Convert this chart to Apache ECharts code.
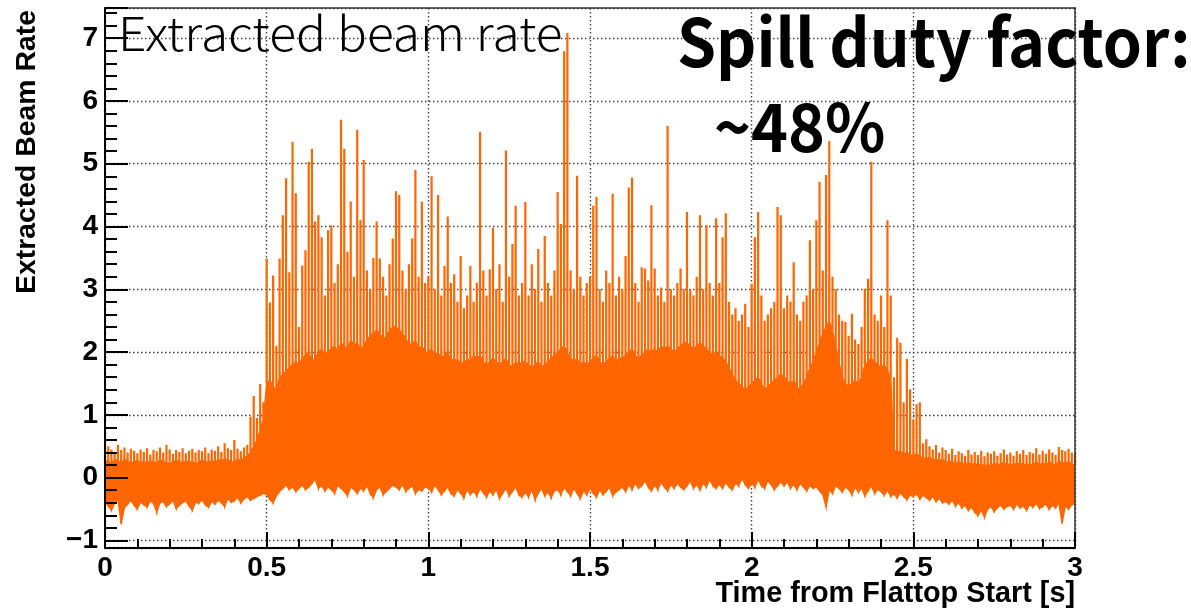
<!DOCTYPE html>
<html>
<head>
<meta charset="utf-8">
<script src="https://cdn.jsdelivr.net/npm/echarts@6/dist/echarts.min.js"></script>
<style>
  html, body { margin: 0; padding: 0; background: #ffffff; }
  #chart { width: 1191px; height: 610px; }
</style>
</head>
<body>
<div id="chart"></div>
<script>
// Extracted beam rate sampled every 10 ms from flattop start.
const T_START = 0;
const T_STEP = 0.01;

// Highest excursion of the rate inside each 10 ms sample
const peakRate = [
  0.42,0.50,0.45,0.38,0.52,0.44,0.48,0.40,0.46,0.43,
  0.39,0.45,0.41,0.47,0.37,0.44,0.42,0.48,0.40,0.52,
  0.45,0.38,0.44,0.41,0.47,0.39,0.43,0.46,0.40,0.44,
  0.42,0.48,0.39,0.45,0.43,0.50,0.41,0.55,0.47,0.44,
  0.60,0.46,0.42,0.48,0.52,0.97,1.30,0.95,1.49,1.20,
  3.49,2.79,3.22,2.10,3.49,4.18,4.77,3.27,5.35,4.53,
  2.40,3.38,3.62,5.03,5.24,4.08,4.18,3.83,2.90,3.94,
  4.02,3.10,3.40,5.70,5.24,3.60,4.40,3.20,5.54,4.10,
  5.06,3.30,3.00,3.50,4.08,3.49,3.20,2.90,3.40,3.81,
  4.56,4.50,3.30,3.00,3.40,3.81,4.90,3.20,4.40,3.10,
  3.20,4.80,3.00,4.50,2.90,3.37,4.16,3.10,3.24,2.80,
  3.53,2.70,2.90,3.37,2.80,3.10,5.51,3.30,2.90,3.32,
  3.98,3.00,3.40,2.80,5.21,3.20,3.72,4.33,2.90,3.10,
  4.39,2.90,3.40,3.00,3.64,2.80,3.85,3.10,2.90,3.30,
  4.55,4.04,6.79,7.08,3.30,3.00,4.81,3.20,2.90,3.10,
  3.20,4.33,4.47,3.00,2.80,3.30,3.10,4.52,2.90,3.20,
  3.00,3.53,4.62,4.78,3.10,2.80,3.35,3.33,3.14,4.34,
  3.33,2.90,3.03,2.80,5.60,3.00,2.90,3.10,3.33,3.00,
  4.23,3.00,2.90,3.20,4.18,3.00,4.02,3.10,2.90,4.13,
  3.10,3.83,4.21,2.80,2.60,2.70,2.50,2.60,2.77,2.40,
  3.09,3.83,4.23,2.90,2.50,2.60,2.70,2.80,4.31,4.18,
  2.70,2.90,2.80,3.43,2.60,2.50,2.80,2.90,3.78,3.00,
  4.10,4.71,3.30,4.82,5.36,3.20,3.00,2.60,2.50,2.48,
  2.26,2.61,2.20,2.13,2.40,3.01,3.17,5.03,2.60,2.50,
  2.90,2.40,4.10,2.90,1.60,2.23,2.15,1.20,1.89,1.41,
  0.93,1.17,1.20,0.55,0.61,0.50,0.45,0.52,0.40,0.48,
  0.44,0.38,0.46,0.36,0.42,0.39,0.35,0.44,0.37,0.41,
  0.36,0.43,0.34,0.40,0.38,0.42,0.35,0.39,0.45,0.37,
  0.40,0.35,0.42,0.38,0.44,0.36,0.41,0.39,0.47,0.37,
  0.43,0.38,0.45,0.40,0.36,0.49,0.44,0.42,0.46,0.40,
  0.38
];

// Upper edge of the densely filled part of the trace
const fillTop = [
  0.25,0.28,0.22,0.30,0.26,0.24,0.29,0.27,0.23,0.25,
  0.28,0.24,0.26,0.22,0.27,0.25,0.23,0.29,0.26,0.24,
  0.22,0.25,0.28,0.26,0.23,0.27,0.24,0.26,0.22,0.25,
  0.28,0.26,0.24,0.27,0.25,0.29,0.27,0.30,0.28,0.26,
  0.24,0.30,0.27,0.32,0.35,0.40,0.50,0.60,0.75,0.95,
  1.50,1.55,1.45,1.40,1.60,1.65,1.70,1.75,1.80,1.85,
  1.80,1.90,1.95,2.00,1.85,1.90,2.00,2.05,1.95,2.00,
  2.05,2.10,2.00,2.15,2.10,2.05,2.20,2.10,2.15,2.05,
  2.10,2.20,2.25,2.30,2.35,2.30,2.20,2.25,2.35,2.40,
  2.40,2.35,2.30,2.20,2.15,2.10,2.20,2.05,2.10,2.00,
  2.00,2.05,1.95,2.00,1.90,1.95,2.00,1.85,1.90,1.85,
  1.85,1.80,1.90,1.85,1.95,1.90,1.95,1.85,1.80,1.85,
  1.90,1.85,1.80,1.85,1.90,1.80,1.75,1.85,1.80,1.85,
  1.85,1.80,1.75,1.80,1.85,1.75,1.80,1.85,1.90,1.95,
  2.00,2.05,2.10,2.00,1.90,1.85,1.90,1.80,1.85,1.80,
  1.85,1.90,1.95,1.85,1.80,1.85,1.90,1.95,1.85,1.90,
  1.90,1.95,2.00,2.05,1.95,1.90,1.95,2.00,2.05,2.00,
  2.05,2.00,2.10,2.05,2.10,2.05,2.00,2.05,2.10,2.15,
  2.15,2.10,2.05,2.10,2.15,2.10,2.05,2.00,1.95,2.00,
  1.95,1.90,1.85,1.75,1.65,1.55,1.50,1.45,1.40,1.45,
  1.50,1.55,1.60,1.50,1.40,1.45,1.50,1.55,1.60,1.65,
  1.60,1.55,1.50,1.55,1.45,1.40,1.50,1.60,1.75,1.85,
  2.00,2.15,2.30,2.40,2.50,2.35,2.10,1.85,1.60,1.50,
  1.45,1.50,1.55,1.50,1.60,1.80,1.85,1.90,1.85,1.80,
  1.75,1.80,1.70,1.60,0.45,0.40,0.42,0.38,0.40,0.36,
  0.35,0.38,0.34,0.32,0.30,0.33,0.28,0.30,0.27,0.29,
  0.26,0.24,0.27,0.22,0.25,0.23,0.20,0.24,0.21,0.23,
  0.20,0.22,0.18,0.21,0.19,0.23,0.20,0.22,0.24,0.21,
  0.22,0.20,0.24,0.21,0.23,0.19,0.22,0.20,0.25,0.21,
  0.23,0.21,0.25,0.22,0.20,0.26,0.24,0.23,0.25,0.22,
  0.20
];

// Lowest excursion of the rate inside each 10 ms sample
const fillBottom = [
  -0.38,-0.45,-0.52,-0.40,-0.35,-0.74,-0.48,-0.42,-0.36,-0.44,
  -0.50,-0.39,-0.43,-0.47,-0.37,-0.41,-0.55,-0.40,-0.38,-0.46,
  -0.42,-0.36,-0.49,-0.44,-0.40,-0.37,-0.45,-0.52,-0.39,-0.41,
  -0.35,-0.43,-0.47,-0.38,-0.42,-0.36,-0.40,-0.46,-0.33,-0.39,
  -0.37,-0.31,-0.40,-0.34,-0.30,-0.36,-0.33,-0.30,-0.28,-0.25,
  -0.27,-0.35,-0.40,-0.29,-0.22,-0.17,-0.12,-0.19,-0.15,-0.22,
  -0.17,-0.12,-0.19,-0.15,-0.09,-0.02,-0.17,-0.13,-0.21,-0.15,
  -0.19,-0.25,-0.12,-0.17,-0.22,-0.29,-0.15,-0.19,-0.25,-0.17,
  -0.21,-0.13,-0.25,-0.32,-0.19,-0.15,-0.27,-0.22,-0.17,-0.12,
  -0.15,-0.19,-0.11,-0.22,-0.17,-0.13,-0.25,-0.19,-0.21,-0.15,
  -0.17,-0.23,-0.12,-0.19,-0.27,-0.21,-0.15,-0.25,-0.29,-0.19,
  -0.25,-0.32,-0.19,-0.27,-0.22,-0.29,-0.17,-0.24,-0.31,-0.21,
  -0.27,-0.19,-0.33,-0.25,-0.17,-0.29,-0.22,-0.15,-0.27,-0.31,
  -0.23,-0.31,-0.19,-0.35,-0.25,-0.17,-0.29,-0.23,-0.32,-0.21,
  -0.19,-0.27,-0.15,-0.22,-0.29,-0.17,-0.25,-0.33,-0.21,-0.27,
  -0.17,-0.25,-0.31,-0.19,-0.27,-0.22,-0.15,-0.29,-0.23,-0.19,
  -0.15,-0.22,-0.12,-0.19,-0.09,-0.17,-0.13,-0.05,-0.15,-0.21,
  -0.12,-0.19,-0.07,-0.15,-0.21,-0.11,-0.17,-0.09,-0.15,-0.19,
  -0.13,-0.05,-0.17,-0.11,-0.19,-0.09,-0.15,-0.03,-0.13,-0.17,
  -0.11,-0.17,-0.07,-0.15,-0.19,-0.09,-0.13,-0.01,-0.11,-0.17,
  -0.09,-0.15,-0.03,-0.13,-0.17,-0.05,-0.11,-0.19,-0.13,-0.07,
  -0.13,-0.07,-0.17,-0.11,-0.19,-0.09,-0.15,-0.21,-0.13,-0.17,
  -0.15,-0.21,-0.27,-0.47,-0.19,-0.25,-0.13,-0.17,-0.23,-0.15,
  -0.19,-0.27,-0.15,-0.23,-0.17,-0.29,-0.21,-0.13,-0.25,-0.19,
  -0.22,-0.28,-0.20,-0.30,-0.26,-0.32,-0.24,-0.30,-0.35,-0.28,
  -0.30,-0.26,-0.34,-0.28,-0.32,-0.36,-0.30,-0.38,-0.33,-0.40,
  -0.38,-0.42,-0.36,-0.45,-0.40,-0.48,-0.44,-0.52,-0.47,-0.55,
  -0.60,-0.52,-0.63,-0.50,-0.46,-0.54,-0.48,-0.44,-0.50,-0.46,
  -0.44,-0.50,-0.42,-0.48,-0.45,-0.52,-0.43,-0.47,-0.41,-0.49,
  -0.46,-0.42,-0.50,-0.44,-0.48,-0.40,-0.73,-0.45,-0.50,-0.43,
  -0.42
];

// Axis ranges
const X_RANGE = [0, 3];
const Y_RANGE = [-1.12, 7.48];

const ORANGE = '#ff6600';
const GRID_LINE = { color: '#444', width: 1.4, type: [1.5, 2.5] };
const LABEL_FONT = { fontFamily: 'Liberation Sans', fontWeight: 'bold', fontSize: 28, color: '#000' };
const TICK_STYLE = { color: '#000', width: 2 };

const times = peakRate.map((_, i) => Math.round((T_START + i * T_STEP) * 1000) / 1000);

// one quad per sample interval: [t0, low0, top0, t1, low1, top1]
const bandCells = [];
for (let i = 0; i < times.length - 1; i++) {
  bandCells.push([times[i], fillBottom[i], fillTop[i], times[i + 1], fillBottom[i + 1], fillTop[i + 1]]);
}

// vertical strokes from the filled edge up to each sample's peak
const spikeSegments = [];
times.forEach((t, i) => {
  spikeSegments.push([t, fillTop[i]], [t, peakRate[i]], [t, '-']);
});

const chart = echarts.init(document.getElementById('chart'), null, { renderer: 'canvas' });

const hiddenParts = {
  axisLine: { show: false, onZero: false },
  axisTick: { show: false },
  axisLabel: { show: false },
  splitLine: { show: false }
};

chart.setOption({
  animation: false,
  backgroundColor: '#ffffff',
  grid: { left: 105, right: 116, top: 8, bottom: 62, containLabel: false, outerBoundsMode: 'none' },
  xAxis: [
    {
      type: 'value', min: X_RANGE[0], max: X_RANGE[1], interval: 0.5, position: 'bottom', z: 0,
      axisLine: { show: false, onZero: false },
      axisTick: { show: false },
      splitLine: { show: true, lineStyle: GRID_LINE },
      axisLabel: Object.assign({ margin: 6 }, LABEL_FONT)
    },
    Object.assign({}, hiddenParts, {
      type: 'value', min: X_RANGE[0], max: X_RANGE[1], interval: 0.5, position: 'bottom', z: 10,
      axisLine: { show: true, onZero: false, lineStyle: TICK_STYLE },
      axisTick: { show: true, inside: true, length: 16, lineStyle: TICK_STYLE },
      minorTick: { show: true, splitNumber: 5, length: 9, lineStyle: TICK_STYLE }
    }),
    Object.assign({}, hiddenParts, {
      type: 'value', min: X_RANGE[0], max: X_RANGE[1], position: 'top', z: 10,
      axisLine: { show: true, onZero: false, lineStyle: { color: '#333', width: 1.5 } }
    })
  ],
  yAxis: [
    {
      type: 'value', min: Y_RANGE[0], max: Y_RANGE[1], minInterval: 1, maxInterval: 1, position: 'left', z: 0,
      axisLine: { show: false, onZero: false },
      axisTick: { show: false },
      splitLine: { show: true, lineStyle: GRID_LINE },
      axisLabel: Object.assign({
        margin: 7, showMinLabel: false, showMaxLabel: false,
        formatter: v => String(v).replace('-', '\u2212')
      }, LABEL_FONT)
    },
    Object.assign({}, hiddenParts, {
      type: 'value', min: Y_RANGE[0], max: Y_RANGE[1], minInterval: 1, maxInterval: 1, position: 'left', z: 10,
      axisLine: { show: true, onZero: false, lineStyle: TICK_STYLE },
      axisTick: { show: true, inside: true, length: 23, lineStyle: TICK_STYLE }
    }),
    Object.assign({}, hiddenParts, {
      type: 'value', min: Y_RANGE[0], max: Y_RANGE[1], minInterval: 0.2, maxInterval: 0.2, position: 'left', z: 10,
      axisTick: { show: true, inside: true, length: 12, lineStyle: TICK_STYLE }
    }),
    Object.assign({}, hiddenParts, {
      type: 'value', min: Y_RANGE[0], max: Y_RANGE[1], position: 'right', z: 10,
      axisLine: { show: true, onZero: false, lineStyle: { color: '#333', width: 1.5 } }
    })
  ],
  series: [
    {
      type: 'custom', name: 'rate band', data: bandCells, silent: true, clip: true,
      encode: { x: [0, 3], y: [1, 2, 4, 5] },
      renderItem: (params, api) => {
        const pts = [
          api.coord([api.value(0), api.value(1)]),
          api.coord([api.value(3), api.value(4)]),
          api.coord([api.value(3), api.value(5)]),
          api.coord([api.value(0), api.value(2)])
        ];
        return {
          type: 'polygon',
          shape: { points: pts },
          style: { fill: ORANGE, stroke: ORANGE, lineWidth: 1.3 }
        };
      }
    },
    {
      type: 'line', name: 'rate peaks', data: spikeSegments, connectNulls: false,
      symbol: 'none', silent: true,
      lineStyle: { width: 2.2, color: ORANGE, cap: 'butt' }
    }
  ],
  graphic: [
    {
      type: 'text', x: 118, y: 34, z: 20, scaleX: 1.08,
      style: { text: 'Extracted beam rate', font: '300 46px "Noto Sans CJK JP"', fill: '#000', textVerticalAlign: 'middle' }
    },
    {
      type: 'text', x: 677, y: 42, z: 20, scaleX: 0.95,
      style: { text: 'Spill duty factor:', font: 'bold 66px "Noto Sans CJK JP"', fill: '#000', textVerticalAlign: 'middle' }
    },
    {
      type: 'text', x: 714, y: 127, z: 20, scaleX: 0.95,
      style: { text: '~48%', font: 'bold 66px "Noto Sans CJK JP"', fill: '#000', textVerticalAlign: 'middle' }
    },
    {
      type: 'text', x: 27, y: 10, rotation: Math.PI / 2, z: 20,
      style: { text: 'Extracted Beam Rate', font: 'bold 28.4px "Liberation Sans"', fill: '#000', textAlign: 'right', textVerticalAlign: 'middle' }
    },
    {
      type: 'text', x: 1075, y: 594, z: 20,
      style: { text: 'Time from Flattop Start [s]', font: 'bold 28.8px "Liberation Sans"', fill: '#000', textAlign: 'right', textVerticalAlign: 'middle' }
    }
  ]
});
</script>
</body>
</html>
